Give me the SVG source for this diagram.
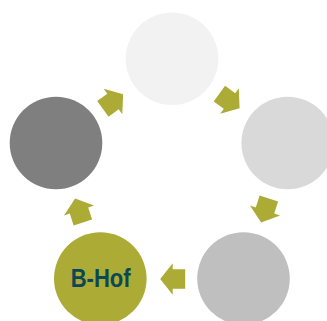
<svg xmlns="http://www.w3.org/2000/svg" width="327" height="321" viewBox="0 0 327 321">
<defs>
<path id="arr" d="M-12.5,-9.7 L0,-9.7 L0,-15.8 L12.5,0 L0,15.8 L0,9.7 L-12.5,9.7 Z"/>
</defs>
<style>
.a{fill:#abab36}
.lbl{font-family:"Liberation Sans","DejaVu Sans",sans-serif;font-weight:bold;font-size:26px;fill:#0d4656}
</style>
<rect width="327" height="321" fill="#ffffff"/>
<g id="connectors">
<use href="#arr" class="a" transform="translate(229.5,101) rotate(36)"/>
<use href="#arr" class="a" transform="translate(265,210.5) rotate(108)"/>
<use href="#arr" class="a" transform="translate(172.7,279) rotate(180)"/>
<use href="#arr" class="a" transform="translate(79,210.5) rotate(252)"/>
<use href="#arr" class="a" transform="translate(113,101.5) rotate(-36)"/>
</g>
<g id="node-top"><circle cx="172" cy="58.7" r="46.3" fill="#f2f2f2"/></g>
<g id="node-right"><circle cx="287.7" cy="143" r="46.3" fill="#d9d9d9"/></g>
<g id="node-bottom-right"><circle cx="243.5" cy="278.6" r="46.3" fill="#bfbfbf"/></g>
<g id="node-bhof"><circle cx="100.3" cy="278.6" r="46.3" fill="#abab36"/>
<text class="lbl" x="100.7" y="287.3" text-anchor="middle" textLength="60" lengthAdjust="spacingAndGlyphs">B-Hof</text></g>
<g id="node-left"><circle cx="56" cy="143" r="46.3" fill="#7f7f7f"/></g>
</svg>
